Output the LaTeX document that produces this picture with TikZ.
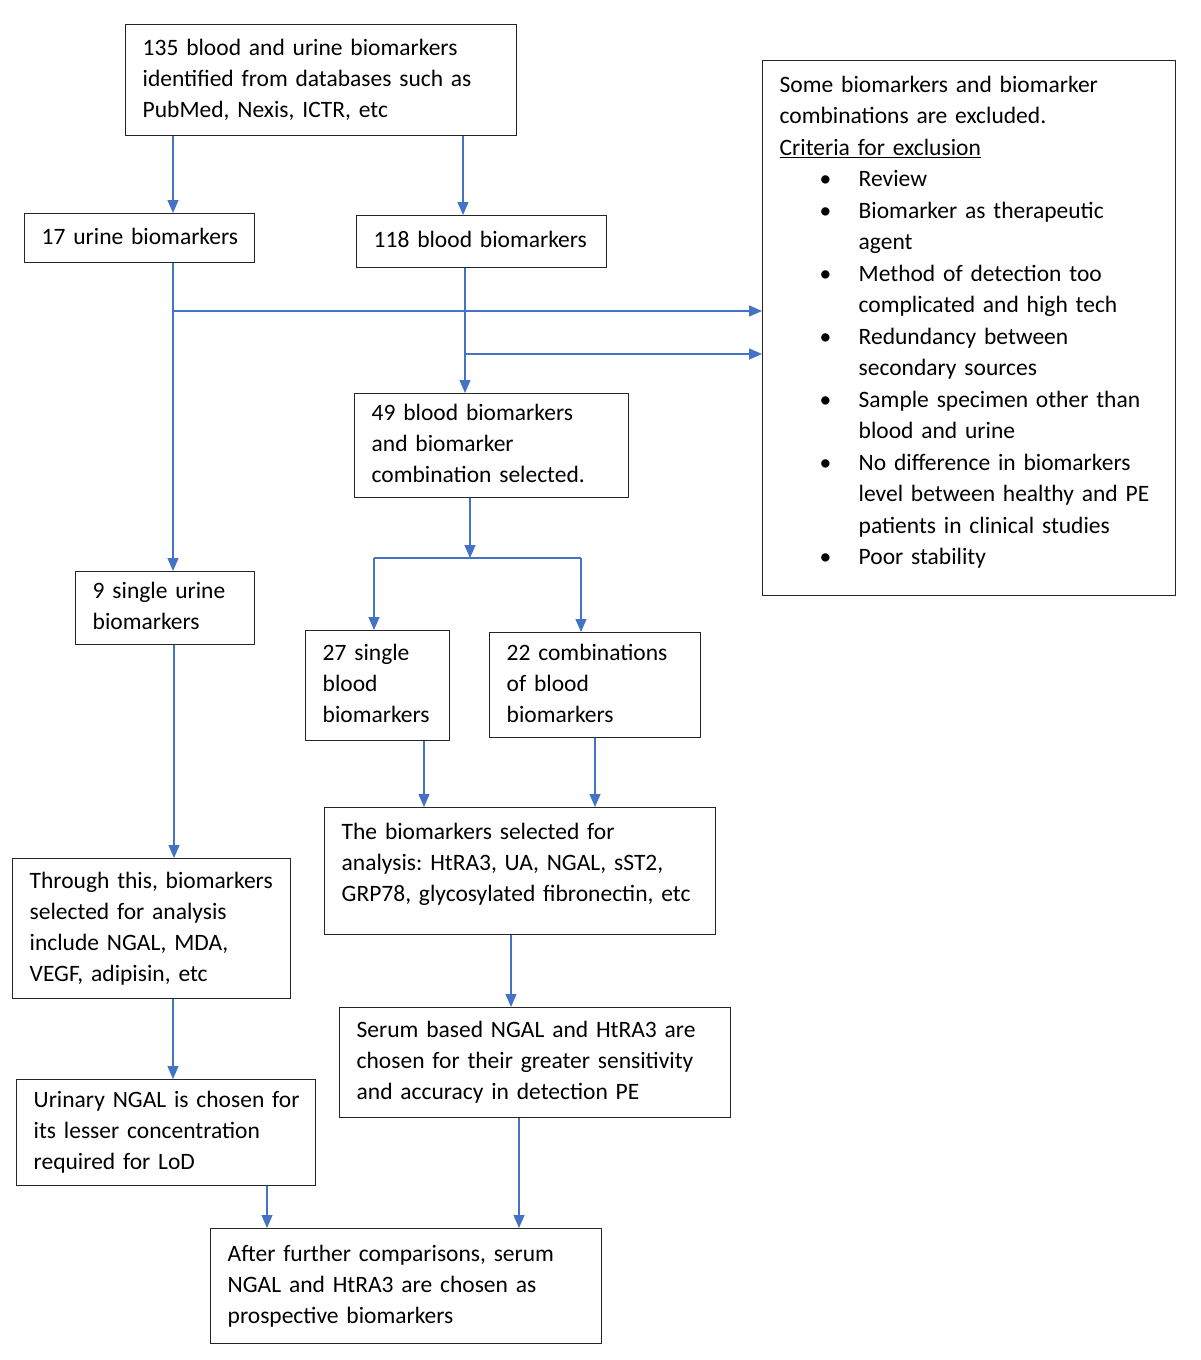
\documentclass[tikz,border=0pt]{standalone}
\usepackage{fontspec}
\setmainfont{Carlito}
\usetikzlibrary{arrows.meta}
\definecolor{arrblue}{HTML}{4472C4}
\newcommand\exbul{\makebox[79pt][l]{\hspace{40pt}\textbullet}}
\newcommand\excont{\hspace*{79pt}}
\newcommand\boxtext[1]{\begin{tabular}{@{}l@{}}#1\end{tabular}}
\frenchspacing
\tikzset{
  box/.style={draw=black!85, line width=1.4pt, rectangle, anchor=north west,
    inner xsep=17pt, inner ysep=0pt, align=left,
    font=\fontsize{23.5}{31}\selectfont\frenchspacing},
  arr/.style={draw=arrblue, line width=1.3pt, -{Triangle[length=13pt,width=11pt]}},
  ln/.style={draw=arrblue, line width=1.3pt}
}
\begin{document}
\begin{tikzpicture}[x=1pt,y=-1pt]
\fill[white] (0,0) rectangle (1200,1360);
\useasboundingbox (0,0) rectangle (1200,1360);

\node[box, minimum width=391pt, minimum height=111pt, text width=357pt] (top) at (125,24)
  {\boxtext{135 blood and urine biomarkers\\identified from databases such as\\PubMed, Nexis, ICTR, etc}};
\node[box, minimum width=413pt, minimum height=535pt, text width=379pt,
      font=\fontsize{23.5}{31.5}\selectfont\frenchspacing] (excl) at (762,60)
  {\boxtext{Some biomarkers and biomarker\\
   combinations are excluded.\\
   \underline{Criteria for exclusion}\\
   \exbul Review\\
   \exbul Biomarker as therapeutic\\
   \excont agent\\
   \exbul Method of detection too\\
   \excont complicated and high tech\\
   \exbul Redundancy between\\
   \excont secondary sources\\
   \exbul Sample specimen other than\\
   \excont blood and urine\\
   \exbul No difference in biomarkers\\
   \excont level between healthy and PE\\
   \excont patients in clinical studies\\
   \exbul Poor stability\\[12pt]}};
\node[box, minimum width=230pt, minimum height=49pt, text width=196pt] (urine) at (24,213)
  {\boxtext{17 urine biomarkers}};
\node[box, minimum width=250pt, minimum height=52pt, text width=216pt] (b118) at (356,215)
  {\boxtext{118 blood biomarkers}};
\node[box, minimum width=274pt, minimum height=104pt, text width=240pt] (b49) at (354,393)
  {\boxtext{49 blood biomarkers\\and biomarker\\combination selected.}};
\node[box, minimum width=179pt, minimum height=73pt, text width=145pt] (u9) at (75,571)
  {\boxtext{9 single urine\\biomarkers}};
\node[box, minimum width=144pt, minimum height=110pt, text width=110pt] (b27) at (305,630)
  {\boxtext{27 single\\blood\\biomarkers}};
\node[box, minimum width=211pt, minimum height=105pt, text width=177pt] (b22) at (489,632)
  {\boxtext{22 combinations\\of blood\\biomarkers}};
\node[box, minimum width=391pt, minimum height=127pt, text width=357pt] (sel) at (324,807)
  {\boxtext{The biomarkers selected for\\analysis: HtRA3, UA, NGAL, sST2,\\GRP78, glycosylated fibronectin, etc\\[14pt]}};
\node[box, minimum width=278pt, minimum height=140pt, text width=244pt] (thr) at (12,858)
  {\boxtext{Through this, biomarkers\\selected for analysis\\include NGAL, MDA,\\VEGF, adipisin, etc}};
\node[box, minimum width=391pt, minimum height=110pt, text width=357pt] (ser) at (339,1007)
  {\boxtext{Serum based NGAL and HtRA3 are\\chosen for their greater sensitivity\\and accuracy in detection PE}};
\node[box, minimum width=299pt, minimum height=106pt, text width=265pt] (uri) at (16,1079)
  {\boxtext{Urinary NGAL is chosen for\\its lesser concentration\\required for LoD}};
\node[box, minimum width=391pt, minimum height=115pt, text width=357pt] (aft) at (210,1228)
  {\boxtext{After further comparisons, serum\\NGAL and HtRA3 are chosen as\\prospective biomarkers}};

\draw[arr] (top.south -| 173,0) -- (urine.north -| 173,0);
\draw[arr] (top.south -| 463,0) -- (b118.north -| 463,0);
\draw[arr] (urine.south -| 173,0) -- (u9.north -| 173,0);
\coordinate (j1) at (173,311);
\draw[arr] (j1) -- (j1 -| excl.west);
\draw[arr] (b118.south -| 465,0) -- (b49.north -| 465,0);
\coordinate (j2) at (465,354);
\draw[arr] (j2) -- (j2 -| excl.west);
\coordinate (s0) at (470,558);
\coordinate (sl) at (374,558);
\coordinate (sr) at (581,558);
\draw[arr] (b49.south -| s0) -- (s0);
\draw[ln] (sl) -- (sr);
\draw[arr] (sl) -- (sl |- b27.north);
\draw[arr] (sr) -- (sr |- b22.north);
\draw[arr] (b27.south -| 424,0) -- (sel.north -| 424,0);
\draw[arr] (b22.south -| 595,0) -- (sel.north -| 595,0);
\draw[arr] (u9.south -| 174,0) -- (thr.north -| 174,0);
\draw[arr] (sel.south -| 511,0) -- (ser.north -| 511,0);
\draw[arr] (thr.south -| 173,0) -- (uri.north -| 173,0);
\draw[arr] (uri.south -| 267,0) -- (aft.north -| 267,0);
\draw[arr] (ser.south -| 519,0) -- (aft.north -| 519,0);
\end{tikzpicture}
\end{document}
